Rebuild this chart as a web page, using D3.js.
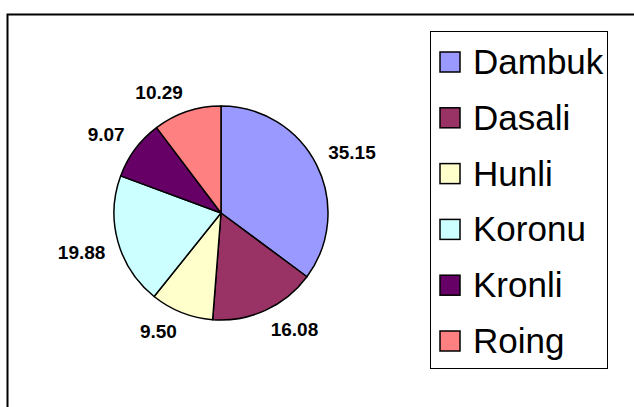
<!DOCTYPE html>
<html>
<meta charset="utf-8">
<head>
  <title>Pie chart</title>
</head>
<style>
body { margin: 0; background: white; }
text { font-family: "Liberation Sans", Arial, sans-serif; }
.lbl { font-weight: bold; font-size: 19px; fill: black; }
.leg { font-size: 35px; fill: black; }
</style>
<body>
  <svg width="634" height="407"></svg>
  <script src="https://cdnjs.cloudflare.com/ajax/libs/d3/7.8.5/d3.min.js"></script>
  <script>
var names = ['Dambuk', 'Dasali', 'Hunli', 'Koronu', 'Kronli', 'Roing'];
var values = [35.15, 16.08, 9.50, 19.88, 9.07, 10.29];
var colors = ['#9999ff', '#993366', '#ffffcc', '#ccffff', '#660066', '#ff8080'];

var svg = d3.select('svg');

// outer frame, runs off the right and bottom edges
svg.append('rect')
  .attr('x', 7.5).attr('y', 14.5)
  .attr('width', 700).attr('height', 500)
  .attr('fill', 'none').attr('stroke', '#000').attr('stroke-width', 2);

var cx = 221, cy = 213, r = 107;
var color = d3.scaleOrdinal().domain(names).range(colors);

var pie = d3.pie().sort(null).value(function(d, i) { return values[i]; });
var arcs = pie(names);
var arc = d3.arc().innerRadius(0).outerRadius(r);

var g = svg.append('g').attr('transform', 'translate(' + cx + ',' + cy + ')');

g.selectAll('path')
  .data(arcs)
  .enter()
  .append('path')
  .attr('d', arc)
  .attr('fill', function(d) { return color(d.data); })
  .attr('stroke', '#000')
  .attr('stroke-width', 1.5)
  .attr('stroke-linejoin', 'round');

// labels: the corner of the text nearest the pie sits on the mid-angle ray
var labelDist = 120, capH = 19 * 0.716;
g.selectAll('text.lbl')
  .data(arcs)
  .enter()
  .append('text')
  .attr('class', 'lbl')
  .text(function(d) { return d3.format('.2f')(d.value); })
  .each(function(d) {
    var a = (d.startAngle + d.endAngle) / 2;
    var s = Math.sin(a), c = Math.cos(a);
    var px = s * labelDist, py = -c * labelDist;
    d3.select(this)
      .attr('text-anchor', s >= 0 ? 'start' : 'end')
      .attr('x', px)
      .attr('y', c >= 0 ? py : py + capH);
  });

// legend
var legX = 430.5, legY = 31.5;
svg.append('rect')
  .attr('x', legX).attr('y', legY)
  .attr('width', 177).attr('height', 337)
  .attr('fill', 'white').attr('stroke', '#000').attr('stroke-width', 1);

var row = d3.scalePoint().domain(names).range([62, 341]);

var items = svg.selectAll('g.item')
  .data(names)
  .enter()
  .append('g')
  .attr('class', 'item')
  .attr('transform', function(d) { return 'translate(0,' + row(d) + ')'; });

items.append('rect')
  .attr('x', 440).attr('y', -10)
  .attr('width', 20).attr('height', 20)
  .attr('fill', function(d) { return color(d); })
  .attr('stroke', '#000').attr('stroke-width', 1.5);

items.append('text')
  .attr('class', 'leg')
  .attr('x', 473).attr('y', 12)
  .text(function(d) { return d; });
  </script>
</body>
</html>
